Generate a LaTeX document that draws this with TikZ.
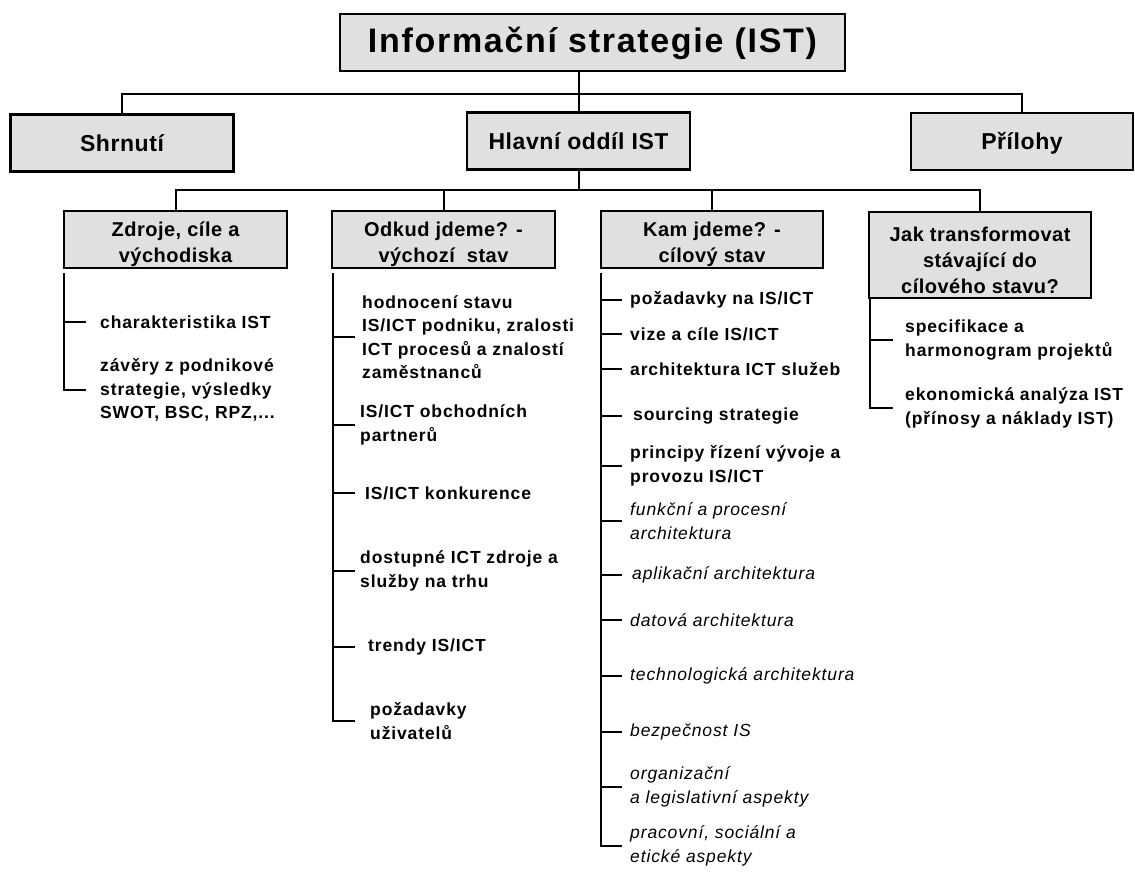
\documentclass[tikz,border=0pt]{standalone}
\usepackage{fontspec}
\setmainfont{Liberation Sans}
\newfontfamily\nadpisfont[LetterSpace=5]{Liberation Sans}
\newfontfamily\boxfont[LetterSpace=2.5]{Liberation Sans}
\newfontfamily\polfont[LetterSpace=5]{Liberation Sans}
\usetikzlibrary{positioning,calc}
\definecolor{boxgray}{RGB}{224,224,224}
\newcommand{\horni}{\rule{0pt}{25pt}}

\begin{document}
\begin{tikzpicture}[x=1pt, y=-1pt,
    box/.style={rectangle, draw, fill=boxgray, line width=2.2pt, inner sep=1pt, align=center},
    lvl2/.style={box, minimum width=223pt, minimum height=57pt, text height=20pt, text depth=4pt,
      font=\boxfont\bfseries\fontsize{23}{28}\selectfont},
    lvl3/.style={box, minimum width=223pt, minimum height=57pt, inner ysep=0pt,
      font=\boxfont\bfseries\fontsize{20}{26}\selectfont},
    item/.style={anchor=west, align=left, inner ysep=0pt, inner xsep=#1, font=\polfont\bfseries\fontsize{17.5}{23.5}\selectfont},
    item/.default=8pt,
    ital/.style={item=#1, font=\polfont\itshape\fontsize{17.5}{23.5}\selectfont},
    ital/.default=8pt,
    conn/.style={line width=2pt},
    spine/.style={line width=1.3pt},
    tick/.style={line width=2.4pt}]
  \useasboundingbox (0,0) rectangle (1135,871);

  % Nadpis
  \node[box, line width=2.6pt, minimum width=505pt, minimum height=57pt, text height=24pt, text depth=5pt,
        font=\nadpisfont\bfseries\fontsize{34}{38}\selectfont] (ist) at (592.5,42.5) {Informační strategie (IST)};

  % Druhá úroveň
  \node[lvl2] (hlav) at (578.5,141) {Hlavní oddíl IST};
  \node[lvl2] (shrn) at (122,143) {Shrnutí};
  \node[lvl2, minimum width=222pt] (pril) at (1022,141.5) {Přílohy};
  \coordinate (bar1) at (578.5,94);
  \draw[conn] (hlav.north) -- (hlav.north |- ist.south);
  \draw[conn] (shrn.north) |- (bar1) -| (pril.north);

  % Třetí úroveň
  \node[lvl3] (zdr) at (175.5,239.5) {\horni Zdroje, cíle a\\východiska};
  \node[lvl3] (odk) at (443.5,239.5) {\horni Odkud jdeme? -\\výchozí~ stav};
  \node[lvl3, minimum width=222pt] (kam) at (712,239.5) {\horni Kam jdeme? -\\cílový stav};
  \node[lvl3, minimum width=222pt, minimum height=86pt] (jak) at (980,255) {\horni Jak transformovat\\stávající do\\cílového stavu?};
  \coordinate (bar2) at (578.5,190);
  \draw[conn] (hlav.south) -- (bar2);
  \draw[conn] (zdr.north) |- (bar2) -| (jak.north);
  \draw[conn] (odk.north) -- (odk.north |- bar2);
  \draw[conn] (kam.north) -- (kam.north |- bar2);

  % Zdroje
  \coordinate (s1) at ($(zdr.south west)+(1,4)$);
  \node[item=14pt] (zdr1) at (86,322) {charakteristika IST};
  \node[item=14pt] (zdr2) at (86,390) {závěry z podnikové\\strategie, výsledky\\SWOT, BSC, RPZ,...};
  \draw[spine] (s1) |- (zdr2.west);
  \draw[tick] (s1 |- zdr1.west) -- (zdr1.west) (s1 |- zdr2.west) -- (zdr2.west);

  % Odkud jdeme
  \coordinate (s2) at ($(odk.south west)+(2,4)$);
  \node[item=7pt] (odk1) at (355,337) {hodnocení stavu\\IS/ICT podniku, zralosti\\ICT procesů a znalostí\\zaměstnanců};
  \node[item=5pt] (odk2) at (355,425) {IS/ICT obchodních\\partnerů};
  \node[item=10pt] (odk3) at (355,493) {IS/ICT konkurence};
  \node[item=5pt] (odk4) at (355,571) {dostupné ICT zdroje a\\služby na trhu};
  \node[item=13pt] (odk5) at (355,647) {trendy IS/ICT};
  \node[item=15pt] (odk6) at (355,721) {požadavky\\uživatelů};
  \draw[spine] (s2) |- (odk6.west);
  \draw[tick] (s2 |- odk1.west) -- (odk1.west) (s2 |- odk2.west) -- (odk2.west)
    (s2 |- odk3.west) -- (odk3.west) (s2 |- odk4.west) -- (odk4.west)
    (s2 |- odk5.west) -- (odk5.west) (s2 |- odk6.west) -- (odk6.west);

  % Kam jdeme
  \coordinate (s3) at ($(kam.south west)+(1,4)$);
  \node[item] (kam1) at (622,300) {požadavky na IS/ICT};
  \node[item] (kam2) at (622,334) {vize a cíle IS/ICT};
  \node[item] (kam3) at (622,369) {architektura ICT služeb};
  \node[item=11pt] (kam4) at (622,416) {sourcing strategie};
  \node[item] (kam5) at (622,466) {principy řízení vývoje a\\provozu IS/ICT};
  \node[ital] (kam6) at (622,521) {funkční a procesní\\architektura};
  \node[ital=10pt] (kam7) at (622,575) {aplikační architektura};
  \node[ital] (kam8) at (622,620) {datová architektura};
  \node[ital] (kam9) at (622,676) {technologická architektura};
  \node[ital] (kam10) at (622,732) {bezpečnost IS};
  \node[ital] (kam11) at (622,787) {organizační\\a legislativní aspekty};
  \node[ital] (kam12) at (622,846) {pracovní, sociální a\\etické aspekty};
  \draw[spine] (s3) |- (kam12.west);
  \draw[tick] (s3 |- kam1.west) -- (kam1.west) (s3 |- kam2.west) -- (kam2.west)
    (s3 |- kam3.west) -- (kam3.west) (s3 |- kam4.west) -- (kam4.west)
    (s3 |- kam5.west) -- (kam5.west) (s3 |- kam6.west) -- (kam6.west)
    (s3 |- kam7.west) -- (kam7.west) (s3 |- kam8.west) -- (kam8.west)
    (s3 |- kam9.west) -- (kam9.west) (s3 |- kam10.west) -- (kam10.west)
    (s3 |- kam11.west) -- (kam11.west) (s3 |- kam12.west) -- (kam12.west);

  % Jak transformovat
  \coordinate (s4) at ($(jak.south west)+(2,0)$);
  \node[item=12pt] (jak1) at (893,340) {specifikace a\\harmonogram projektů};
  \node[item=12pt] (jak2) at (893,408) {ekonomická analýza IST\\(přínosy a náklady IST)};
  \draw[spine] (s4) |- (jak2.west);
  \draw[tick] (s4 |- jak1.west) -- (jak1.west) (s4 |- jak2.west) -- (jak2.west);
\end{tikzpicture}
\end{document}
